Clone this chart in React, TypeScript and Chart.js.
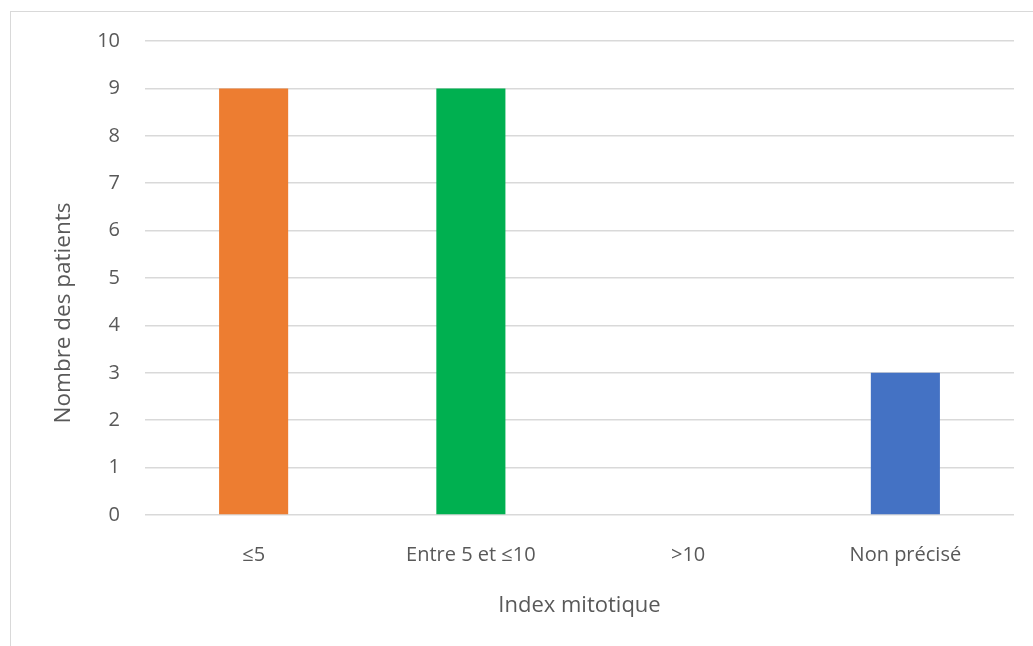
import React, { useEffect, useRef } from "react";
import { Chart, registerables } from "chart.js";

Chart.register(...registerables);

const categories = ["≤5", "Entre 5 et ≤10", ">10", "Non précisé"];
const patientCounts = [9, 9, 0, 3];
const barColors = ["#ED7D31", "#00B050", "#A5A5A5", "#4472C4"];
const yTicksMax = 10;
const yTitle = "Nombre des patients";
const xTitle = "Index mitotique";

const yTitlePlugin = {
  id: "yTitlePlugin",
  afterDraw(chart: any) {
    const ctx = chart.ctx;
    ctx.save();
    ctx.translate(64, 313);
    ctx.rotate(-Math.PI / 2);
    ctx.font = "22.5px 'Open Sans'";
    ctx.fillStyle = "#595959";
    ctx.textAlign = "center";
    ctx.textBaseline = "middle";
    ctx.fillText(yTitle, 0, 0);
    ctx.restore();
  },
};

export default function App() {
  const ref = useRef<HTMLCanvasElement | null>(null);

  useEffect(() => {
    if (!ref.current) return;
    const chart = new Chart(ref.current, {
      type: "bar",
      data: {
        labels: categories,
        datasets: [
          {
            data: patientCounts,
            backgroundColor: barColors,
            categoryPercentage: 1,
            barPercentage: 0.318,
          },
        ],
      },
      plugins: [yTitlePlugin],
      options: {
        animation: false,
        responsive: false,
        maintainAspectRatio: false,
        layout: { padding: { left: 50, top: 41, right: 19, bottom: 27 } },
        plugins: { legend: { display: false }, tooltip: { enabled: false } },
        scales: {
          x: {
            grid: { display: false, drawTicks: false },
            border: { display: false },
            ticks: {
              color: "#595959",
              padding: 28,
              font: { family: "'Open Sans'", size: 20 },
            },
            title: {
              display: true,
              text: xTitle,
              color: "#595959",
              padding: 0,
              font: { family: "'Open Sans'", size: 22 },
            },
            afterFit: (s: any) => {
              s.height = 104;
            },
          },
          y: {
            min: 0,
            max: yTicksMax,
            grid: { color: "#D9D9D9", lineWidth: 1.5, drawTicks: false },
            border: { display: false },
            ticks: {
              stepSize: 1,
              color: "#595959",
              padding: 25,
              font: { family: "'Open Sans'", size: 20 },
            },
            title: { display: false },
            afterFit: (s: any) => {
              s.width = 95;
            },
          },
        },
      },
    });
    return () => chart.destroy();
  }, []);

  return (
    <div
      style={{
        position: "fixed",
        left: 0,
        top: 0,
        width: 1033,
        height: 646,
        overflow: "hidden",
        background: "#fff",
      }}
    >
      <div
        style={{
          position: "absolute",
          left: 10,
          top: 11,
          width: 1040,
          height: 660,
          border: "1.5px solid #D9D9D9",
          boxSizing: "border-box",
        }}
      />
      <canvas
        ref={ref}
        width={1033}
        height={646}
        style={{ position: "absolute", left: 0, top: 0, width: 1033, height: 646 }}
      />
    </div>
  );
}
